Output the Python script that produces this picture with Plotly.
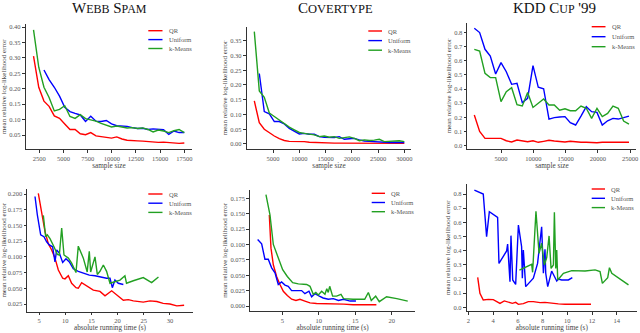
import plotly.graph_objects as go

W, H = 640, 333

# ---------------- data: sample-size experiments ----------------
ws_n = [1900, 2440, 2980, 3510, 4050, 4590, 5130, 5670, 6200, 6740, 7280, 7820, 8360, 8890, 9430,
        9970, 10510, 11050, 11580, 12120, 12660, 13200, 13740, 14270, 14810, 15350, 15890, 16430, 16960, 17500]
ws_qr = [0.306, 0.205, 0.160, 0.143, 0.112, 0.104, 0.086, 0.068, 0.068, 0.054, 0.051, 0.058, 0.047, 0.045, 0.043,
         0.040, 0.044, 0.037, 0.033, 0.033, 0.031, 0.030, 0.028, 0.027, 0.026, 0.027, 0.025, 0.024, 0.023, 0.024]
ws_un = [0.261, 0.230, 0.205, 0.176, 0.140, 0.126, 0.120, 0.115, 0.094, 0.111, 0.095, 0.094, 0.097, 0.086,
         0.080, 0.080, 0.078, 0.074, 0.071, 0.072, 0.068, 0.070, 0.069, 0.067, 0.052, 0.063, 0.058, 0.058]
ws_km = [0.391, 0.270, 0.205, 0.172, 0.128, 0.133, 0.145, 0.110, 0.104, 0.116, 0.103, 0.099, 0.095, 0.088, 0.083,
         0.076, 0.079, 0.076, 0.073, 0.074, 0.071, 0.073, 0.068, 0.060, 0.066, 0.063, 0.058, 0.064, 0.068, 0.058]

ct_n = [1430, 2380, 3330, 4290, 5240, 6190, 7140, 8090, 9050, 10000, 10950, 11900, 12850, 13810, 14760, 15710,
        16660, 17610, 18570, 19520, 20470, 21420, 22370, 23330, 24280, 25230, 26180, 27130, 28090, 29040, 29990]
ct_qr = [0.146, 0.072, 0.050, 0.038, 0.027, 0.018, 0.012, 0.009, 0.009, 0.010, 0.008, 0.006, 0.005, 0.004, 0.004,
         0.003, 0.003, 0.003, 0.003, 0.002, 0.003, 0.002, 0.002, 0.002, 0.002, 0.002, 0.002, 0.002, 0.002, 0.002, 0.002]
ct_un = [0.239, 0.110, 0.102, 0.076, 0.076, 0.068, 0.053, 0.042, 0.034, 0.036, 0.033, 0.033, 0.025, 0.023, 0.022,
         0.022, 0.025, 0.016, 0.018, 0.019, 0.014, 0.010, 0.009, 0.008, 0.006, 0.007, 0.005, 0.006, 0.005, 0.005]
ct_km = [0.381, 0.180, 0.158, 0.105, 0.093, 0.080, 0.068, 0.057, 0.048, 0.039, 0.036, 0.033, 0.031, 0.025, 0.027,
         0.023, 0.025, 0.019, 0.022, 0.024, 0.019, 0.011, 0.014, 0.012, 0.013, 0.016, 0.008, 0.009, 0.009, 0.011, 0.008]

kd_n = [860, 1690, 2520, 3340, 4170, 5000, 5820, 6650, 7480, 8300, 9130, 9960, 10780, 11610, 12440,
        13260, 14090, 14920, 15740, 16570, 17400, 18220, 19050, 19880, 20700, 21530, 22360, 23180, 24010, 24840]
kd_qr = [0.216, 0.100, 0.052, 0.052, 0.056, 0.052, 0.035, 0.026, 0.040, 0.035, 0.028, 0.035, 0.024, 0.031, 0.038,
         0.033, 0.028, 0.026, 0.031, 0.026, 0.024, 0.024, 0.021, 0.021, 0.024, 0.024, 0.026, 0.026, 0.028, 0.024]
kd_un = [0.828, 0.798, 0.680, 0.633, 0.506, 0.586, 0.522, 0.433, 0.440, 0.304, 0.334, 0.565, 0.412, 0.402, 0.188,
         0.198, 0.202, 0.205, 0.162, 0.146, 0.209, 0.275, 0.240, 0.235, 0.146, 0.176, 0.193, 0.188, 0.198, 0.209]
kd_km = [0.680, 0.668, 0.510, 0.480, 0.480, 0.311, 0.381, 0.409, 0.290, 0.280, 0.375, 0.270, 0.300, 0.330, 0.287,
         0.287, 0.250, 0.260, 0.247, 0.247, 0.280, 0.264, 0.193, 0.264, 0.205, 0.228, 0.280, 0.264, 0.174, 0.153]

# ---------------- data: running-time experiments ----------------
wst_qr = [4.87, 5.51, 6.15, 6.78, 7.42, 8.05, 8.69, 9.52, 9.96, 10.6, 11.23, 12.06, 12.5, 13.14, 14.1,
          15.37, 16.64, 17.6, 18.87, 19.82, 21.1, 22.05, 23.0, 24.9, 26.2, 27.5, 28.7, 30.0, 31.3, 32.7]
wse_qr = [0.201, 0.172, 0.140, 0.121, 0.111, 0.098, 0.079, 0.066, 0.065, 0.070, 0.058, 0.051, 0.050, 0.059, 0.054,
          0.047, 0.045, 0.038, 0.046, 0.039, 0.031, 0.032, 0.030, 0.028, 0.030, 0.029, 0.026, 0.025, 0.022, 0.023]
wst_un = [4.24, 4.68, 5.32, 5.95, 6.46, 6.97, 7.6, 8.05, 8.37, 8.88, 9.52, 10.15, 10.8, 11.55, 12.5,
          13.46, 14.6, 15.69, 16.64, 17.28, 17.9, 18.55, 19.0, 19.5, 20.14, 21.1]
wse_un = [0.196, 0.167, 0.135, 0.132, 0.124, 0.119, 0.116, 0.092, 0.111, 0.106, 0.091, 0.097, 0.092, 0.081, 0.077,
          0.074, 0.071, 0.070, 0.068, 0.067, 0.066, 0.066, 0.051, 0.063, 0.058, 0.056]
wst_km = [5.83, 6.27, 6.59, 7.1, 7.86, 8.5, 8.88, 9.33, 9.77, 10.6, 11.23, 12.06, 12.5, 13.46, 14.2, 14.6,
          14.86, 15.69, 16.13, 16.64, 17.28, 17.9, 18.55, 19.5, 20.46, 21.4, 21.7, 23.0, 24.9, 26.5, 27.8]
wse_km = [0.166, 0.132, 0.135, 0.129, 0.116, 0.104, 0.103, 0.146, 0.103, 0.098, 0.090, 0.075, 0.117, 0.098, 0.076,
          0.109, 0.076, 0.100, 0.072, 0.077, 0.087, 0.077, 0.058, 0.061, 0.063, 0.070, 0.058, 0.062, 0.067, 0.059, 0.068]

ctt_qr = [3.22, 3.45, 3.77, 4.22, 4.68, 5.14, 5.69, 6.28, 6.87, 7.42, 8.1, 8.8, 9.7, 10.6, 12.0, 13.4, 14.7, 16.1, 17.9]
cte_qr = [0.148, 0.094, 0.067, 0.048, 0.035, 0.024, 0.017, 0.011, 0.009, 0.011, 0.008, 0.005, 0.004, 0.004,
          0.003, 0.003, 0.002, 0.002, 0.002]
ctt_un = [1.62, 2.17, 2.62, 3.08, 3.54, 4.0, 4.45, 4.9, 5.37, 5.82, 6.28, 6.97, 7.65, 8.1, 8.66, 9.02, 9.48,
          10.08, 10.6, 11.3, 12.0, 12.7, 13.4, 14.3, 15.1]
cte_un = [0.108, 0.101, 0.076, 0.076, 0.062, 0.054, 0.035, 0.039, 0.034, 0.032, 0.025, 0.025, 0.025, 0.020, 0.024,
          0.015, 0.020, 0.016, 0.013, 0.011, 0.012, 0.009, 0.011, 0.008, 0.008]
ctt_km = [2.76, 3.31, 3.77, 4.22, 4.68, 5.05, 5.69, 6.42, 7.2, 8.34, 8.8, 9.25, 9.6, 9.94, 10.4, 10.85, 11.1,
          11.3, 11.5, 11.9, 12.45, 13.05, 13.4, 14.7, 16.3, 16.8, 17.2, 17.8, 18.3, 19.3, 20.7, 22.2]
cte_km = [0.181, 0.148, 0.100, 0.086, 0.073, 0.059, 0.048, 0.038, 0.036, 0.035, 0.032, 0.019, 0.022, 0.018, 0.024,
          0.019, 0.028, 0.022, 0.032, 0.016, 0.016, 0.019, 0.012, 0.011, 0.011, 0.022, 0.009, 0.016, 0.007, 0.015,
          0.012, 0.008]

kdt_qr = [2.76, 2.94, 3.21, 3.62, 4.02, 4.29, 4.56, 4.91, 5.24, 5.56, 5.83, 6.05, 6.45, 6.85, 7.26, 7.8, 8.2,
          8.74, 9.28, 9.82, 10.36, 10.9, 11.44, 11.92]
kde_qr = [0.212, 0.099, 0.052, 0.056, 0.054, 0.040, 0.028, 0.045, 0.035, 0.028, 0.035, 0.021, 0.026, 0.040, 0.040,
          0.033, 0.035, 0.028, 0.024, 0.021, 0.021, 0.024, 0.026, 0.021]
kdt_un = [2.49, 3.21, 3.48, 3.70, 4.37, 4.48, 5.10, 5.18, 5.37, 5.45, 5.59, 5.83, 6.05, 6.31, 6.37, 6.45, 6.64,
          7.26, 7.60, 7.93, 8.07, 8.20, 8.26, 8.42, 8.74, 9.15, 9.28, 9.55, 10.09, 10.41]
kde_un = [0.828, 0.800, 0.499, 0.675, 0.635, 0.310, 0.398, 0.447, 0.181, 0.506, 0.193, 0.162, 0.581, 0.428, 0.205,
          0.405, 0.146, 0.205, 0.310, 0.569, 0.240, 0.410, 0.240, 0.146, 0.256, 0.186, 0.200, 0.193, 0.193, 0.209]
kdt_km = [6.13, 7.12, 7.20, 7.47, 7.72, 7.93, 8.15, 8.34, 8.53, 8.69, 8.88, 8.96, 9.07, 9.15, 9.23, 9.69, 10.36,
          11.44, 12.25, 12.65, 12.84, 13.27, 13.41, 13.60, 14.95]
kde_km = [0.263, 0.304, 0.247, 0.678, 0.381, 0.452, 0.299, 0.351, 0.504, 0.275, 0.299, 0.671, 0.275, 0.405, 0.193,
          0.240, 0.259, 0.256, 0.264, 0.252, 0.169, 0.209, 0.280, 0.240, 0.158]

series_names = ["QR", "Uniform", "k-Means"]
titles = ["W<span style='font-size:12px'>EBB</span> S<span style='font-size:12px'>PAM</span>",
          "C<span style='font-size:12.5px'>OVERTYPE</span>",
          "KDD C<span style='font-size:12px'>UP</span> '99"]
xlabels = ["sample size", "absolute running time (s)"]
ylabel = "mean relative log-likelihood error"

# ---------------- styling / layout ----------------
RED, BLUE, GREEN = "#ff0000", "#0000ff", "#22a022"
colors = [RED, BLUE, GREEN]
SERIF = "Liberation Serif, Times New Roman, serif"
AXC = "#333333"
TXT = "#555555"

panels = [
    dict(box=(25.8, 192.05, 24.4, 149.0), xr=[1100, 18300], yr=[0.0046, 0.409],
         xt=[2500, 5000, 7500, 10000, 12500, 15000, 17500], yt=[0.05, 0.10, 0.15, 0.20, 0.25, 0.30, 0.35, 0.40],
         yf=".2f", xl=xlabels[0],
         data=[(ws_n, ws_qr), (ws_n[2:], ws_un), (ws_n, ws_km)]),
    dict(box=(246.8, 411.2, 26.55, 149.3), xr=[0, 31300], yr=[-0.018, 0.398],
         xt=[5000, 10000, 15000, 20000, 25000, 30000], yt=[0.0, 0.05, 0.10, 0.15, 0.20, 0.25, 0.30, 0.35],
         yf=".2f", xl=xlabels[0],
         data=[(ct_n, ct_qr), (ct_n[1:], ct_un), (ct_n, ct_km)]),
    dict(box=(467.46, 636.45, 22.5, 149.4), xr=[-200, 26000], yr=[-0.026, 0.869],
         xt=[5000, 10000, 15000, 20000, 25000], yt=[0.0, 0.1, 0.2, 0.3, 0.4, 0.5, 0.6, 0.7, 0.8],
         yf=".1f", xl=xlabels[0],
         data=[(kd_n, kd_qr), (kd_n, kd_un), (kd_n, kd_km)]),
    dict(box=(27.47, 192.5, 188.97, 311.54), xr=[2.8, 34.3], yr=[0.013, 0.208],
         xt=[5, 10, 15, 20, 25, 30], yt=[0.025, 0.05, 0.075, 0.1, 0.125, 0.15, 0.175, 0.2],
         yf=".3f", xl=xlabels[1],
         data=[(wst_qr, wse_qr), (wst_un, wse_un), (wst_km, wse_km)]),
    dict(box=(250.2, 415.03, 189.69, 310.92), xr=[0.6, 23.2], yr=[-0.008, 0.189],
         xt=[5, 10, 15, 20], yt=[0.0, 0.025, 0.05, 0.075, 0.1, 0.125, 0.15, 0.175],
         yf=".3f", xl=xlabels[1],
         data=[(ctt_qr, cte_qr), (ctt_un, cte_un), (ctt_km, cte_km)]),
    dict(box=(466.75, 636.84, 184.25, 310.98), xr=[1.875, 15.625], yr=[-0.026, 0.869],
         xt=[2, 4, 6, 8, 10, 12, 14], yt=[0.0, 0.1, 0.2, 0.3, 0.4, 0.5, 0.6, 0.7, 0.8],
         yf=".1f", xl=xlabels[1],
         data=[(kdt_qr, kde_qr), (kdt_un, kde_un), (kdt_km, kde_km)]),
]

legend_px = [  # (line x0, line x1, text x, row y0, row step)
    (148.3, 162.5, 166.5, 30.7, 8.9),
    (368.3, 382.0, 386.0, 31.0, 9.6),
    (591.7, 605.5, 609.5, 26.7, 10.0),
    (148.3, 162.5, 166.5, 194.0, 9.2),
    (371.7, 385.0, 389.0, 193.3, 9.2),
    (591.7, 605.0, 609.0, 189.0, 9.3),
]
title_px = [(109, 8.2), (335, 8.2), (554, 8.2)]

fig = go.Figure()
layout = dict(width=W, height=H, margin=dict(l=0, r=0, t=0, b=0),
              paper_bgcolor="white", plot_bgcolor="white", template="none",
              showlegend=False, annotations=[], shapes=[])

for i, p in enumerate(panels):
    sfx = "" if i == 0 else str(i + 1)
    x0, x1, yt_, yb_ = p["box"]
    for (xs, ys), c in zip(p["data"], colors):
        fig.add_trace(go.Scatter(x=xs, y=ys, mode="lines", line=dict(color=c, width=1.4),
                                 xaxis="x" + sfx, yaxis="y" + sfx, hoverinfo="skip"))
    common = dict(showline=True, linecolor=AXC, linewidth=0.8, ticks="outside", ticklen=3,
                  tickwidth=0.8, tickcolor=AXC, showgrid=False, zeroline=False, automargin=False,
                  tickfont=dict(family=SERIF, size=6.5, color=TXT))
    layout["xaxis" + sfx] = dict(common, domain=[x0 / W, x1 / W], range=p["xr"], anchor="y" + sfx,
                                 tickvals=p["xt"], tickformat="d",
                                 title=dict(text=p["xl"], font=dict(family=SERIF, size=7.2, color="#444"),
                                            standoff=1))
    layout["yaxis" + sfx] = dict(common, domain=[1 - yb_ / H, 1 - yt_ / H], range=p["yr"], anchor="x" + sfx,
                                 tickvals=p["yt"], tickformat=p["yf"],
                                 title=dict(text=ylabel, font=dict(family=SERIF, size=7.0, color="#444"),
                                            standoff=1))
    # legend drawn inside the axes
    lx0, lx1, tx, ry0, rs = legend_px[i]
    for k, (name, c) in enumerate(zip(series_names, colors)):
        yy = ry0 + k * rs
        layout["shapes"].append(dict(type="line", xref="paper", yref="paper",
                                     x0=lx0 / W, x1=lx1 / W, y0=1 - yy / H, y1=1 - yy / H,
                                     line=dict(color=c, width=1.4)))
        layout["annotations"].append(dict(text=name, xref="paper", yref="paper", x=tx / W, y=1 - yy / H,
                                          xanchor="left", yanchor="middle", showarrow=False,
                                          font=dict(family=SERIF, size=6.5, color=TXT)))

for (cx, cy), t in zip(title_px, titles):
    layout["annotations"].append(dict(text=t, xref="paper", yref="paper", x=cx / W, y=1 - cy / H,
                                      xanchor="center", yanchor="middle", showarrow=False,
                                      font=dict(family=SERIF, size=15, color="#111")))

fig.update_layout(**layout)
fig.write_html("out.html", config={"displayModeBar": False},
               post_script="document.body.style.margin='0';document.body.style.overflow='hidden';")
